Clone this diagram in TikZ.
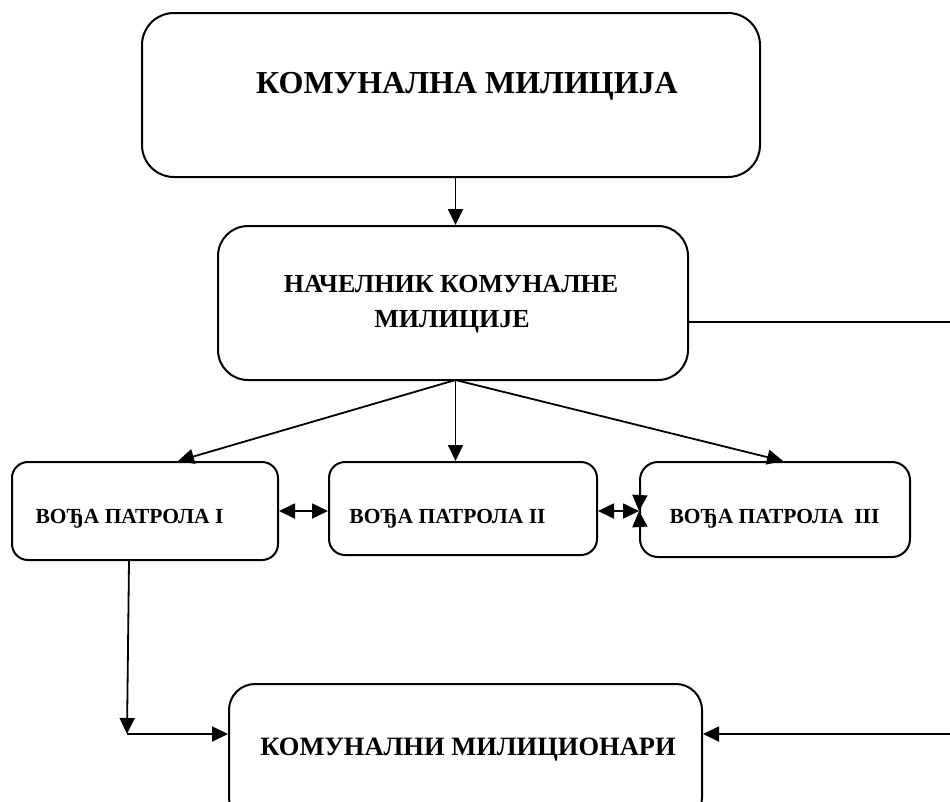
\documentclass[tikz,border=0pt]{standalone}
\usepackage{fontspec}
\setmainfont{Liberation Serif}
\usetikzlibrary{arrows.meta}
\tikzset{
  box/.style={draw, line width=2pt, rounded corners=#1, inner sep=0pt},
  box/.default=18pt,
  lbl/.style={anchor=base, inner sep=0pt, font=\bfseries},
  conn/.style={line width=1.8pt},
  arr/.style={conn, -{Triangle[length=16pt,width=15pt]}},
  dbl/.style={conn, {Triangle[length=16pt,width=15pt]}-{Triangle[length=16pt,width=15pt]}},
}
\begin{document}
\begin{tikzpicture}[x=1pt,y=-1pt]
\useasboundingbox (0,0) rectangle (950,801);
% boxes
\node[box=32pt, minimum width=618pt, minimum height=164pt] (b1) at (451,95) {};
\node[box=30pt, minimum width=470pt, minimum height=154pt] (b2) at (453,303) {};
\node[box=16pt, minimum width=266pt, minimum height=98pt] (b3) at (145,511) {};
\node[box=16pt, minimum width=268pt, minimum height=93pt] (b4) at (463,508.5) {};
\node[box=18pt, minimum width=270pt, minimum height=95pt] (b5) at (775,509.5) {};
\node[box=26pt, minimum width=473pt, minimum height=140pt] (b6) at (465.5,754) {};
% texts
\node[lbl, font=\bfseries\fontsize{32}{38}\selectfont] (t1) at (467,93) {КОМУНАЛНА МИЛИЦИЈА};
\node[lbl, font=\bfseries\fontsize{26}{31}\selectfont] (t2a) at (451,292) {НАЧЕЛНИК КОМУНАЛНЕ};
\node[lbl, font=\bfseries\fontsize{26}{31}\selectfont] (t2b) at (452,327) {МИЛИЦИЈЕ};
\node[lbl, font=\bfseries\fontsize{21.5}{26}\selectfont] (t3) at (129.5,523) {ВОЂА ПАТРОЛА I};
\node[lbl, font=\bfseries\fontsize{21.5}{26}\selectfont] (t4) at (447.5,523) {ВОЂА ПАТРОЛА II};
\node[lbl, font=\bfseries\fontsize{21.5}{26}\selectfont] (t5) at (774.5,523) {ВОЂА ПАТРОЛА\ \ III};
\node[lbl, font=\bfseries\fontsize{26.5}{32}\selectfont] (t6) at (468,755) {КОМУНАЛНИ МИЛИЦИОНАРИ};
% helper coordinates
\coordinate (hub) at (455.5,380);
\coordinate (mid) at (0,511);
\coordinate (r1) at (950,322);
\coordinate (r2) at (950,734);
\coordinate (lc) at (127,734);
\coordinate (vt) at (640,493);
\coordinate (vb) at (640,529);
% connectors
\draw[arr] (b1.south -| hub) -- (b2.north -| hub);
\draw[arr] (hub) -- ([xshift=33pt]b3.north);
\draw[arr] (hub) -- (b4.north -| hub);
\draw[arr] (hub) -- ([xshift=8pt]b5.north);
\draw[dbl] (b3.east |- mid) -- (b4.west |- mid);
\draw[dbl] (b4.east |- mid) -- (b5.west |- mid);
\draw[arr] (vt) -- (b5.west |- mid);
\draw[arr] (vb) -- (b5.west |- mid);
\draw[conn] (r1 -| b2.east) -- (r1);
\draw[arr] (r2) -- (r2 -| b6.east);
\draw[arr] ([xshift=-16pt]b3.south) -- (lc);
\draw[arr] (lc) -- (lc -| b6.west);
\end{tikzpicture}
\end{document}
